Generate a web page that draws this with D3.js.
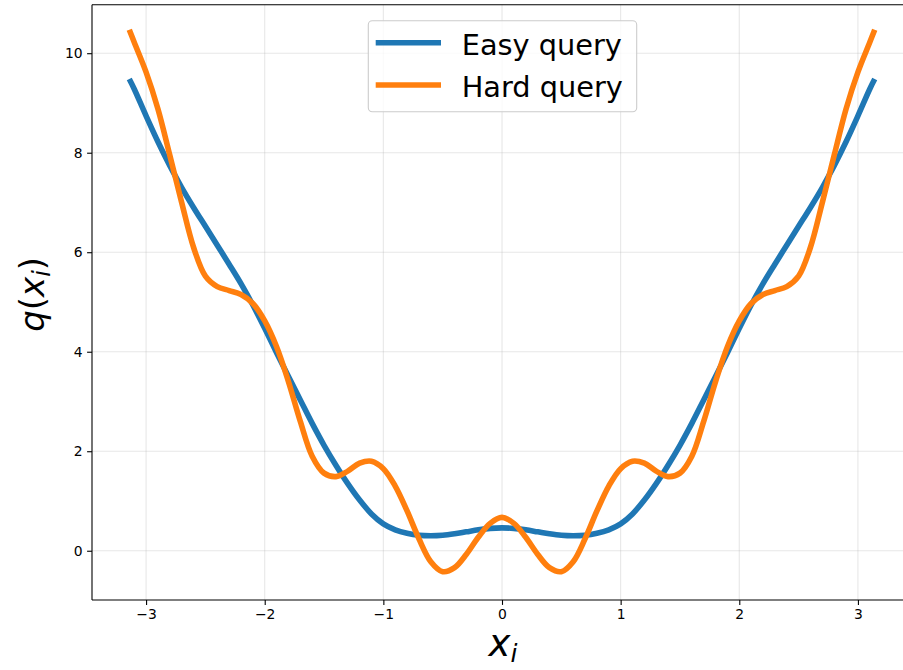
<!DOCTYPE html>
<html>
<head>
<meta charset="utf-8">
<script src="https://cdn.jsdelivr.net/npm/d3@7"></script>
<style>
  html, body { margin: 0; padding: 0; background: #fff; }
  svg { display: block; }
  text { font-family: "DejaVu Sans", sans-serif; }
</style>
</head>
<body>
<svg id="chart" width="903" height="670"></svg>
<script>
// ---------------- data ----------------
const xValues = [
  -3.1416, -3.1, -3.0, -2.9, -2.8, -2.7, -2.6, -2.5, -2.4, -2.3, -2.2, -2.1, -2.0,
  -1.9, -1.8, -1.7, -1.6, -1.5, -1.4, -1.3, -1.2, -1.1, -1.0, -0.9, -0.8, -0.7,
  -0.6, -0.5, -0.4, -0.3, -0.2, -0.1, 0.0, 0.1, 0.2, 0.3, 0.4, 0.5, 0.6, 0.7,
  0.8, 0.9, 1.0, 1.1, 1.2, 1.3, 1.4, 1.5, 1.6, 1.7, 1.8, 1.9, 2.0, 2.1, 2.2,
  2.3, 2.4, 2.5, 2.6, 2.7, 2.8, 2.9, 3.0, 3.1, 3.1416
];
const easyValues = [
  9.48, 9.28, 8.74, 8.22, 7.74, 7.30, 6.90, 6.52, 6.14, 5.76, 5.37, 4.94, 4.47,
  3.98, 3.50, 3.03, 2.56, 2.12, 1.72, 1.35, 1.02, 0.74, 0.54, 0.42, 0.35, 0.31,
  0.30, 0.31, 0.34, 0.38, 0.42, 0.45, 0.46, 0.45, 0.42, 0.38, 0.34, 0.31, 0.30, 0.31,
  0.35, 0.42, 0.54, 0.74, 1.02, 1.35, 1.72, 2.12, 2.56, 3.03, 3.50, 3.98, 4.47, 4.94, 5.37,
  5.76, 6.14, 6.52, 6.90, 7.30, 7.74, 8.22, 8.74, 9.28, 9.48
];
const hardValues = [
  10.47, 10.22, 9.62, 8.88, 7.95, 7.00, 6.10, 5.52, 5.31, 5.23, 5.15, 4.97, 4.62,
  4.10, 3.40, 2.60, 1.90, 1.56, 1.49, 1.60, 1.76, 1.80, 1.65, 1.30, 0.80, 0.24,
  -0.22, -0.42, -0.34, -0.07, 0.27, 0.55, 0.67, 0.55, 0.27, -0.07, -0.34, -0.42, -0.22, 0.24,
  0.80, 1.30, 1.65, 1.80, 1.76, 1.60, 1.49, 1.56, 1.90, 2.60, 3.40, 4.10, 4.62, 4.97, 5.15,
  5.23, 5.31, 5.52, 6.10, 7.00, 7.95, 8.88, 9.62, 10.22, 10.47
];
const seriesNames = ["Easy query", "Hard query"];
const seriesColors = ["#1f77b4", "#ff7f0e"];
const xTicks = [-3, -2, -1, 0, 1, 2, 3];
const yTicks = [0, 2, 4, 6, 8, 10];

// ---------------- layout ----------------
const svg = d3.select("#chart");
const plot = { left: 92, right: 912, top: 4.7, bottom: 600 };

const x = d3.scaleLinear().domain([-3.4558, 3.4558]).range([plot.left, plot.right]);
const y = d3.scaleLinear().domain([-0.99, 10.975]).range([plot.bottom, plot.top]);

const fmt = d => (d < 0 ? "\u2212" + Math.abs(d) : String(d));

// grid
const grid = svg.append("g");
grid.selectAll(".gx").data(xTicks).enter().append("line")
  .attr("x1", d => x(d)).attr("x2", d => x(d))
  .attr("y1", plot.top).attr("y2", plot.bottom)
  .attr("stroke", "#b0b0b0").attr("stroke-opacity", 0.3).attr("stroke-width", 1.1);
grid.selectAll(".gy").data(yTicks).enter().append("line")
  .attr("x1", plot.left).attr("x2", plot.right)
  .attr("y1", d => y(d)).attr("y2", d => y(d))
  .attr("stroke", "#b0b0b0").attr("stroke-opacity", 0.3).attr("stroke-width", 1.1);

// lines
const series = [easyValues, hardValues];
const line = d3.line()
  .x((d, i) => x(xValues[i]))
  .y(d => y(d))
  .curve(d3.curveCatmullRom.alpha(0.5));

svg.append("defs").append("clipPath").attr("id", "clip")
  .append("rect").attr("x", plot.left).attr("y", plot.top)
  .attr("width", plot.right - plot.left).attr("height", plot.bottom - plot.top);

const lines = svg.append("g").attr("clip-path", "url(#clip)");
series.forEach((vals, k) => {
  lines.append("path")
    .attr("d", line(vals))
    .attr("fill", "none")
    .attr("stroke", seriesColors[k])
    .attr("stroke-width", 5.6)
    .attr("stroke-linecap", "butt")
    .attr("stroke-linejoin", "round");
});

// axes
const xAxis = d3.axisBottom(x).tickValues(xTicks).tickFormat(fmt).tickSize(4.9).tickPadding(4.5);
const yAxis = d3.axisLeft(y).tickValues(yTicks).tickFormat(fmt).tickSize(4.9).tickPadding(4.5);

const gx = svg.append("g").attr("transform", `translate(0,${plot.bottom})`).call(xAxis);
const gy = svg.append("g").attr("transform", `translate(${plot.left},0)`).call(yAxis);
[gx, gy].forEach(g => {
  g.select(".domain").remove();
  g.selectAll(".tick line").attr("stroke", "#000").attr("stroke-width", 1.1);
  g.selectAll(".tick text").attr("fill", "#000")
    .style("font-family", "'DejaVu Sans', sans-serif").style("font-size", "13.9px");
});

// spines
const spines = svg.append("g").attr("fill", "none").attr("stroke", "#000").attr("stroke-width", 1.1);
spines.append("line").attr("x1", plot.left).attr("x2", plot.left).attr("y1", plot.top).attr("y2", plot.bottom);
spines.append("line").attr("x1", plot.left).attr("x2", plot.right).attr("y1", plot.bottom).attr("y2", plot.bottom);
spines.append("line").attr("x1", plot.left).attr("x2", plot.right).attr("y1", plot.top).attr("y2", plot.top);
spines.append("line").attr("x1", plot.right).attr("x2", plot.right).attr("y1", plot.top).attr("y2", plot.bottom);

// axis labels
const xl = svg.append("text")
  .attr("x", 503)
  .attr("y", 656)
  .attr("text-anchor", "middle")
  .style("font-size", "37px")
  .style("font-style", "italic")
  .attr("fill", "#000");
xl.append("tspan").text("x");
xl.append("tspan").attr("dy", 6).style("font-size", "25px").text("i");

const yl = svg.append("text")
  .attr("transform", `translate(44,${(plot.top + plot.bottom) / 2 - 8}) rotate(-90)`)
  .attr("text-anchor", "middle")
  .style("font-size", "34px")
  .attr("fill", "#000");
yl.append("tspan").style("font-style", "italic").text("q");
yl.append("tspan").text("(");
yl.append("tspan").style("font-style", "italic").text("x");
yl.append("tspan").attr("dy", 6).style("font-style", "italic").style("font-size", "24px").text("i");
yl.append("tspan").attr("dy", -6).text(")");

// legend
const lg = svg.append("g");
lg.append("rect")
  .attr("x", 368.3).attr("y", 20.7).attr("width", 268.4).attr("height", 91)
  .attr("rx", 4).attr("ry", 4)
  .attr("fill", "#fff").attr("fill-opacity", 0.8)
  .attr("stroke", "#cccccc").attr("stroke-width", 1.1);
seriesNames.forEach((name, i) => {
  const cy = 42.7 + i * 42.3;
  lg.append("line")
    .attr("x1", 375.7).attr("x2", 441).attr("y1", cy).attr("y2", cy)
    .attr("stroke", seriesColors[i]).attr("stroke-width", 5.6);
  lg.append("text")
    .attr("x", 461.7).attr("y", cy + 12.3)
    .style("font-size", "28.8px").attr("fill", "#000")
    .text(name);
});
</script>
</body>
</html>
